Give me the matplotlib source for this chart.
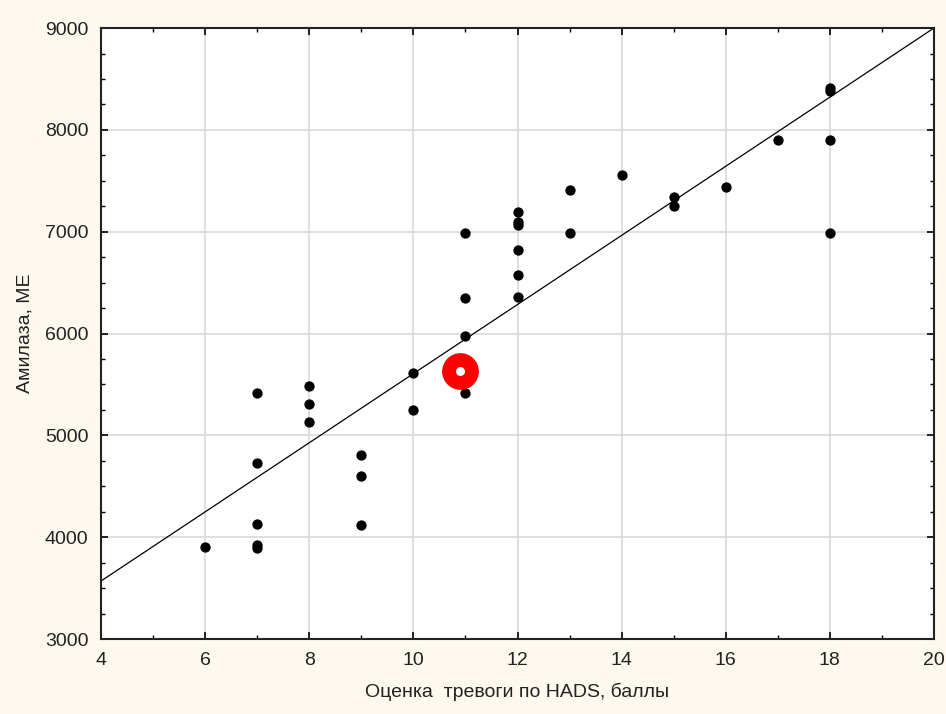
import numpy as np
import matplotlib.pyplot as plt
from matplotlib.ticker import MultipleLocator

# данные: оценка тревоги по HADS и амилаза
hads = [6, 7, 7, 7, 7, 7, 8, 8, 8, 9, 9, 9, 10, 10,
        11, 11, 11, 11, 12, 12, 12, 12, 12, 12, 13, 13, 14,
        15, 15, 16, 17, 18, 18, 18, 18]
amylase = [3900, 5420, 4730, 4130, 3925, 3895, 5485, 5310, 5130, 4810, 4600, 4120, 5610, 5250,
           6990, 6350, 5975, 5415, 7195, 7095, 7065, 6820, 6575, 6360, 7410, 6990, 7560,
           7340, 7250, 7440, 7900, 8410, 8380, 7900, 6990]

# выделенная точка
mark_x = [10.9]
mark_y = [5630]

# линия регрессии
line_x = [4, 20]
line_b0 = 3570
line_b1 = 339.4

plt.rcParams['font.family'] = ['Liberation Sans', 'DejaVu Sans']

bg = '#fdf9ee'
fig = plt.figure(figsize=(9.46, 7.14), dpi=100, facecolor=bg)
ax = fig.add_axes([0.1068, 0.105, 0.8805, 0.8557])
ax.set_facecolor('white')

ax.grid(True, color='#d9d9d9', linewidth=1.2)
ax.set_axisbelow(True)

lx = np.array(line_x)
ax.plot(lx, line_b0 + line_b1 * (lx - 4), color='black', linewidth=0.9, zorder=2)

ax.scatter(hads, amylase, s=55, color='black', zorder=3, linewidths=0)

ax.scatter(mark_x, mark_y, s=700, color='#ff0000', zorder=4, linewidths=0)
ax.scatter(mark_x, mark_y, s=42, color='white', zorder=5, linewidths=0)

ax.set_xlim(4, 20)
ax.set_ylim(3000, 9000)
ax.xaxis.set_major_locator(MultipleLocator(2))
ax.xaxis.set_minor_locator(MultipleLocator(1))
ax.yaxis.set_major_locator(MultipleLocator(1000))
ax.yaxis.set_minor_locator(MultipleLocator(250))

ax.tick_params(which='both', direction='in', top=True, right=True, color='black')
ax.tick_params(which='major', length=5, width=1.2)
ax.tick_params(which='minor', length=3, width=1)
ax.tick_params(axis='y', which='major', pad=9, labelsize=14, labelcolor='#222222')
ax.tick_params(axis='x', which='major', pad=9, labelsize=14, labelcolor='#222222')

for sp in ax.spines.values():
    sp.set_linewidth(1.5)
    sp.set_color('#222222')

ax.set_xlabel('Оценка  тревоги по HADS, баллы', fontsize=14, color='#222222', labelpad=10)
ax.set_ylabel('Амилаза, МЕ', fontsize=14, color='#222222', labelpad=8)

fig.savefig('out.png', dpi=100, facecolor=bg)
